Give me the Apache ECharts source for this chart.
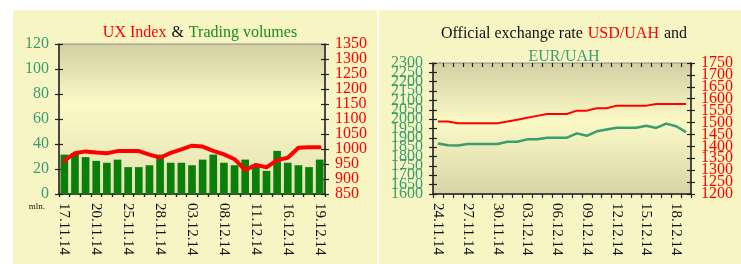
<!DOCTYPE html>
<html>
<head>
<meta charset="utf-8">
<script src="https://cdn.jsdelivr.net/npm/echarts@6/dist/echarts.min.js"></script>
<style>
  html, body { margin: 0; padding: 0; background: #ffffff; }
  #chart { width: 741px; height: 264px; }
</style>
</head>
<body>
<div id="chart"></div>
<script>
// left chart: UX index + trading volumes (trading days)
var uxDates = ['17.11.14','18.11.14','19.11.14','20.11.14','21.11.14','24.11.14','25.11.14','26.11.14','27.11.14','28.11.14',
               '01.12.14','02.12.14','03.12.14','04.12.14','05.12.14','08.12.14','09.12.14','10.12.14','11.12.14','12.12.14',
               '15.12.14','16.12.14','17.12.14','18.12.14','19.12.14'];
var volumes = [31.5,32.5,29.5,26.5,25,27.5,21.5,21.5,23,31.5,25,25,23,27.5,31.5,25,23,27.5,22.5,18.5,34.5,25,23,21.5,27.5];
var uxIndex = [961,986,992,988,986,993,993,993,981,971,987,999,1011,1008,994,982,966,930,947,939,963,971,1004,1006,1006];

// right chart: official exchange rates (per 100 units, calendar days)
var fxDates = ['24.11.14','25.11.14','26.11.14','27.11.14','28.11.14','29.11.14','30.11.14',
               '01.12.14','02.12.14','03.12.14','04.12.14','05.12.14','06.12.14','07.12.14','08.12.14','09.12.14',
               '10.12.14','11.12.14','12.12.14','13.12.14','14.12.14','15.12.14','16.12.14','17.12.14','18.12.14','19.12.14'];
var usdUah = [1504,1504,1497,1497,1497,1497,1497,1504,1512,1520,1528,1536,1536,1536,1550,1550,1560,1560,1571,1571,1571,1571,1578,1578,1578,1578];
var eurUah = [1870,1861,1859,1867,1867,1867,1867,1879,1879,1892,1892,1901,1901,1901,1924,1911,1935,1945,1954,1954,1954,1965,1953,1976,1962,1931];

var serif = 'Liberation Serif';
var red = '#ff0000';
var seaGreen = '#3a9d6e';
var axisColor = '#222';

function plotBg(mid, bottom) {
    return {
        type: 'linear', x: 0, y: 0, x2: 0, y2: 1,
        colorStops: [
            {offset: 0, color: '#d2cfa2'},
            {offset: mid, color: '#fbf9c6'},
            {offset: 1, color: bottom}
        ]
    };
}

// value axis pair: main one has the line, outside ticks and every other label,
// the twin has inside ticks (so ticks cross) and the remaining labels
// (split so echarts does not drop labels that touch each other)
function valueAxes(grid, pos, min, max, step, color, size, extra) {
    function labels(odd) {
        return {
            color: color, fontFamily: serif, fontSize: size, margin: 10,
            showMinLabel: true, showMaxLabel: true,
            formatter: function (v) {
                var n = Math.round((v - min) / step);
                return (n % 2 === (odd ? 1 : 0)) ? String(v) : '';
            }
        };
    }
    var main = {
        type: 'value', gridIndex: grid, position: pos,
        min: min, max: max, interval: step,
        splitLine: {show: false},
        axisLine: {show: true, lineStyle: {color: axisColor, width: 1.5}},
        axisTick: {show: true, length: 4, lineStyle: {color: axisColor, width: 1.2}},
        axisLabel: labels(false)
    };
    if (extra) { for (var k in extra) main[k] = extra[k]; }
    var twin = {
        type: 'value', gridIndex: grid, position: pos,
        min: min, max: max, interval: step,
        splitLine: {show: false},
        axisLine: {show: false},
        axisTick: {show: true, inside: true, length: 4, lineStyle: {color: axisColor, width: 1.2}},
        axisLabel: labels(true)
    };
    return [main, twin];
}

function catAxes(grid, data, tick) {
    var main = {
        type: 'category', gridIndex: grid, data: data, boundaryGap: true,
        axisLine: {show: true, lineStyle: {color: axisColor, width: 1.5}},
        axisTick: {show: true, interval: 0, length: tick, lineStyle: {color: axisColor, width: 1.2}},
        axisLabel: {interval: 2, rotate: -90, color: '#111', fontFamily: serif, fontSize: 15, margin: 9}
    };
    var twin = {
        type: 'category', gridIndex: grid, data: data, boundaryGap: true,
        axisLine: {show: false},
        axisTick: {show: true, interval: 0, inside: true, length: tick, lineStyle: {color: axisColor, width: 1.2}},
        axisLabel: {show: false}
    };
    return [main, twin];
}

var leftY = valueAxes(0, 'left', 0, 120, 20, seaGreen, 16, {
    name: 'mln.', nameLocation: 'start', nameGap: 6,
    nameTextStyle: {color: '#111', fontFamily: serif, fontSize: 9, align: 'right', padding: [0, 14, 0, 0]}
});
var leftY2 = valueAxes(0, 'right', 850, 1350, 50, red, 16);
var rightY = valueAxes(1, 'left', 1600, 2300, 50, seaGreen, 16);
var rightY2 = valueAxes(1, 'right', 1200, 1750, 50, red, 16);
var leftX = catAxes(0, uxDates, 3);
var rightX = catAxes(1, fxDates, 4);

var myChart = echarts.init(document.getElementById('chart'));

var option = {
    animation: false,
    backgroundColor: '#ffffff',
    graphic: [
        {type: 'rect', z: -10, shape: {x: 13, y: 10, width: 364, height: 254}, style: {fill: '#f8f5c5'}},
        {type: 'rect', z: -10, shape: {x: 379, y: 10, width: 362, height: 254}, style: {fill: '#f8f5c5'}}
    ],
    title: [
        {
            text: '{r|UX Index} {k|&} {g|Trading volumes}',
            left: 200, top: 24, textAlign: 'center', padding: 0,
            textStyle: {
                fontWeight: 'normal',
                rich: {
                    r: {color: red, fontFamily: serif, fontSize: 16, fontWeight: 'normal'},
                    k: {color: '#111', fontFamily: serif, fontSize: 16, fontWeight: 'normal'},
                    g: {color: '#1f8a1f', fontFamily: serif, fontSize: 16, fontWeight: 'normal'}
                }
            }
        },
        {
            text: '{k|Official exchange rate} {r|USD/UAH} {k|and}\n{g|EUR/UAH}',
            left: 564, top: 22, textAlign: 'center', padding: 0,
            textStyle: {
                fontWeight: 'normal',
                lineHeight: 23,
                rich: {
                    r: {color: red, fontFamily: serif, fontSize: 16, lineHeight: 23, fontWeight: 'normal'},
                    k: {color: '#111', fontFamily: serif, fontSize: 16, lineHeight: 23, fontWeight: 'normal'},
                    g: {color: seaGreen, fontFamily: serif, fontSize: 16, lineHeight: 23, fontWeight: 'normal'}
                }
            }
        }
    ],
    grid: [
        {left: 59, right: 416, top: 44, bottom: 70, show: true,
         backgroundColor: plotBg(0.4, '#e3e0b0'), borderColor: '#8c8c8c', borderWidth: 1},
        {left: 433, right: 50, top: 63, bottom: 70, show: true,
         backgroundColor: plotBg(0.45, '#d6d3a6'), borderColor: '#8c8c8c', borderWidth: 1}
    ],
    xAxis: [leftX[0], leftX[1], rightX[0], rightX[1]],
    yAxis: [leftY[0], leftY[1], leftY2[0], leftY2[1], rightY[0], rightY[1], rightY2[0], rightY2[1]],
    series: [
        {
            name: 'Trading volumes', type: 'bar', xAxisIndex: 0, yAxisIndex: 0,
            data: volumes, barWidth: '72%',
            itemStyle: {color: '#0a800a'}
        },
        {
            name: 'UX Index', type: 'line', xAxisIndex: 0, yAxisIndex: 2,
            data: uxIndex, symbol: 'none',
            lineStyle: {color: red, width: 4, join: 'round', cap: 'round'}
        },
        {
            name: 'USD/UAH', type: 'line', xAxisIndex: 2, yAxisIndex: 6,
            data: usdUah, symbol: 'none',
            lineStyle: {color: red, width: 2}
        },
        {
            name: 'EUR/UAH', type: 'line', xAxisIndex: 2, yAxisIndex: 4,
            data: eurUah, symbol: 'none',
            lineStyle: {color: seaGreen, width: 2.5}
        }
    ]
};

myChart.setOption(option);
</script>
</body>
</html>
